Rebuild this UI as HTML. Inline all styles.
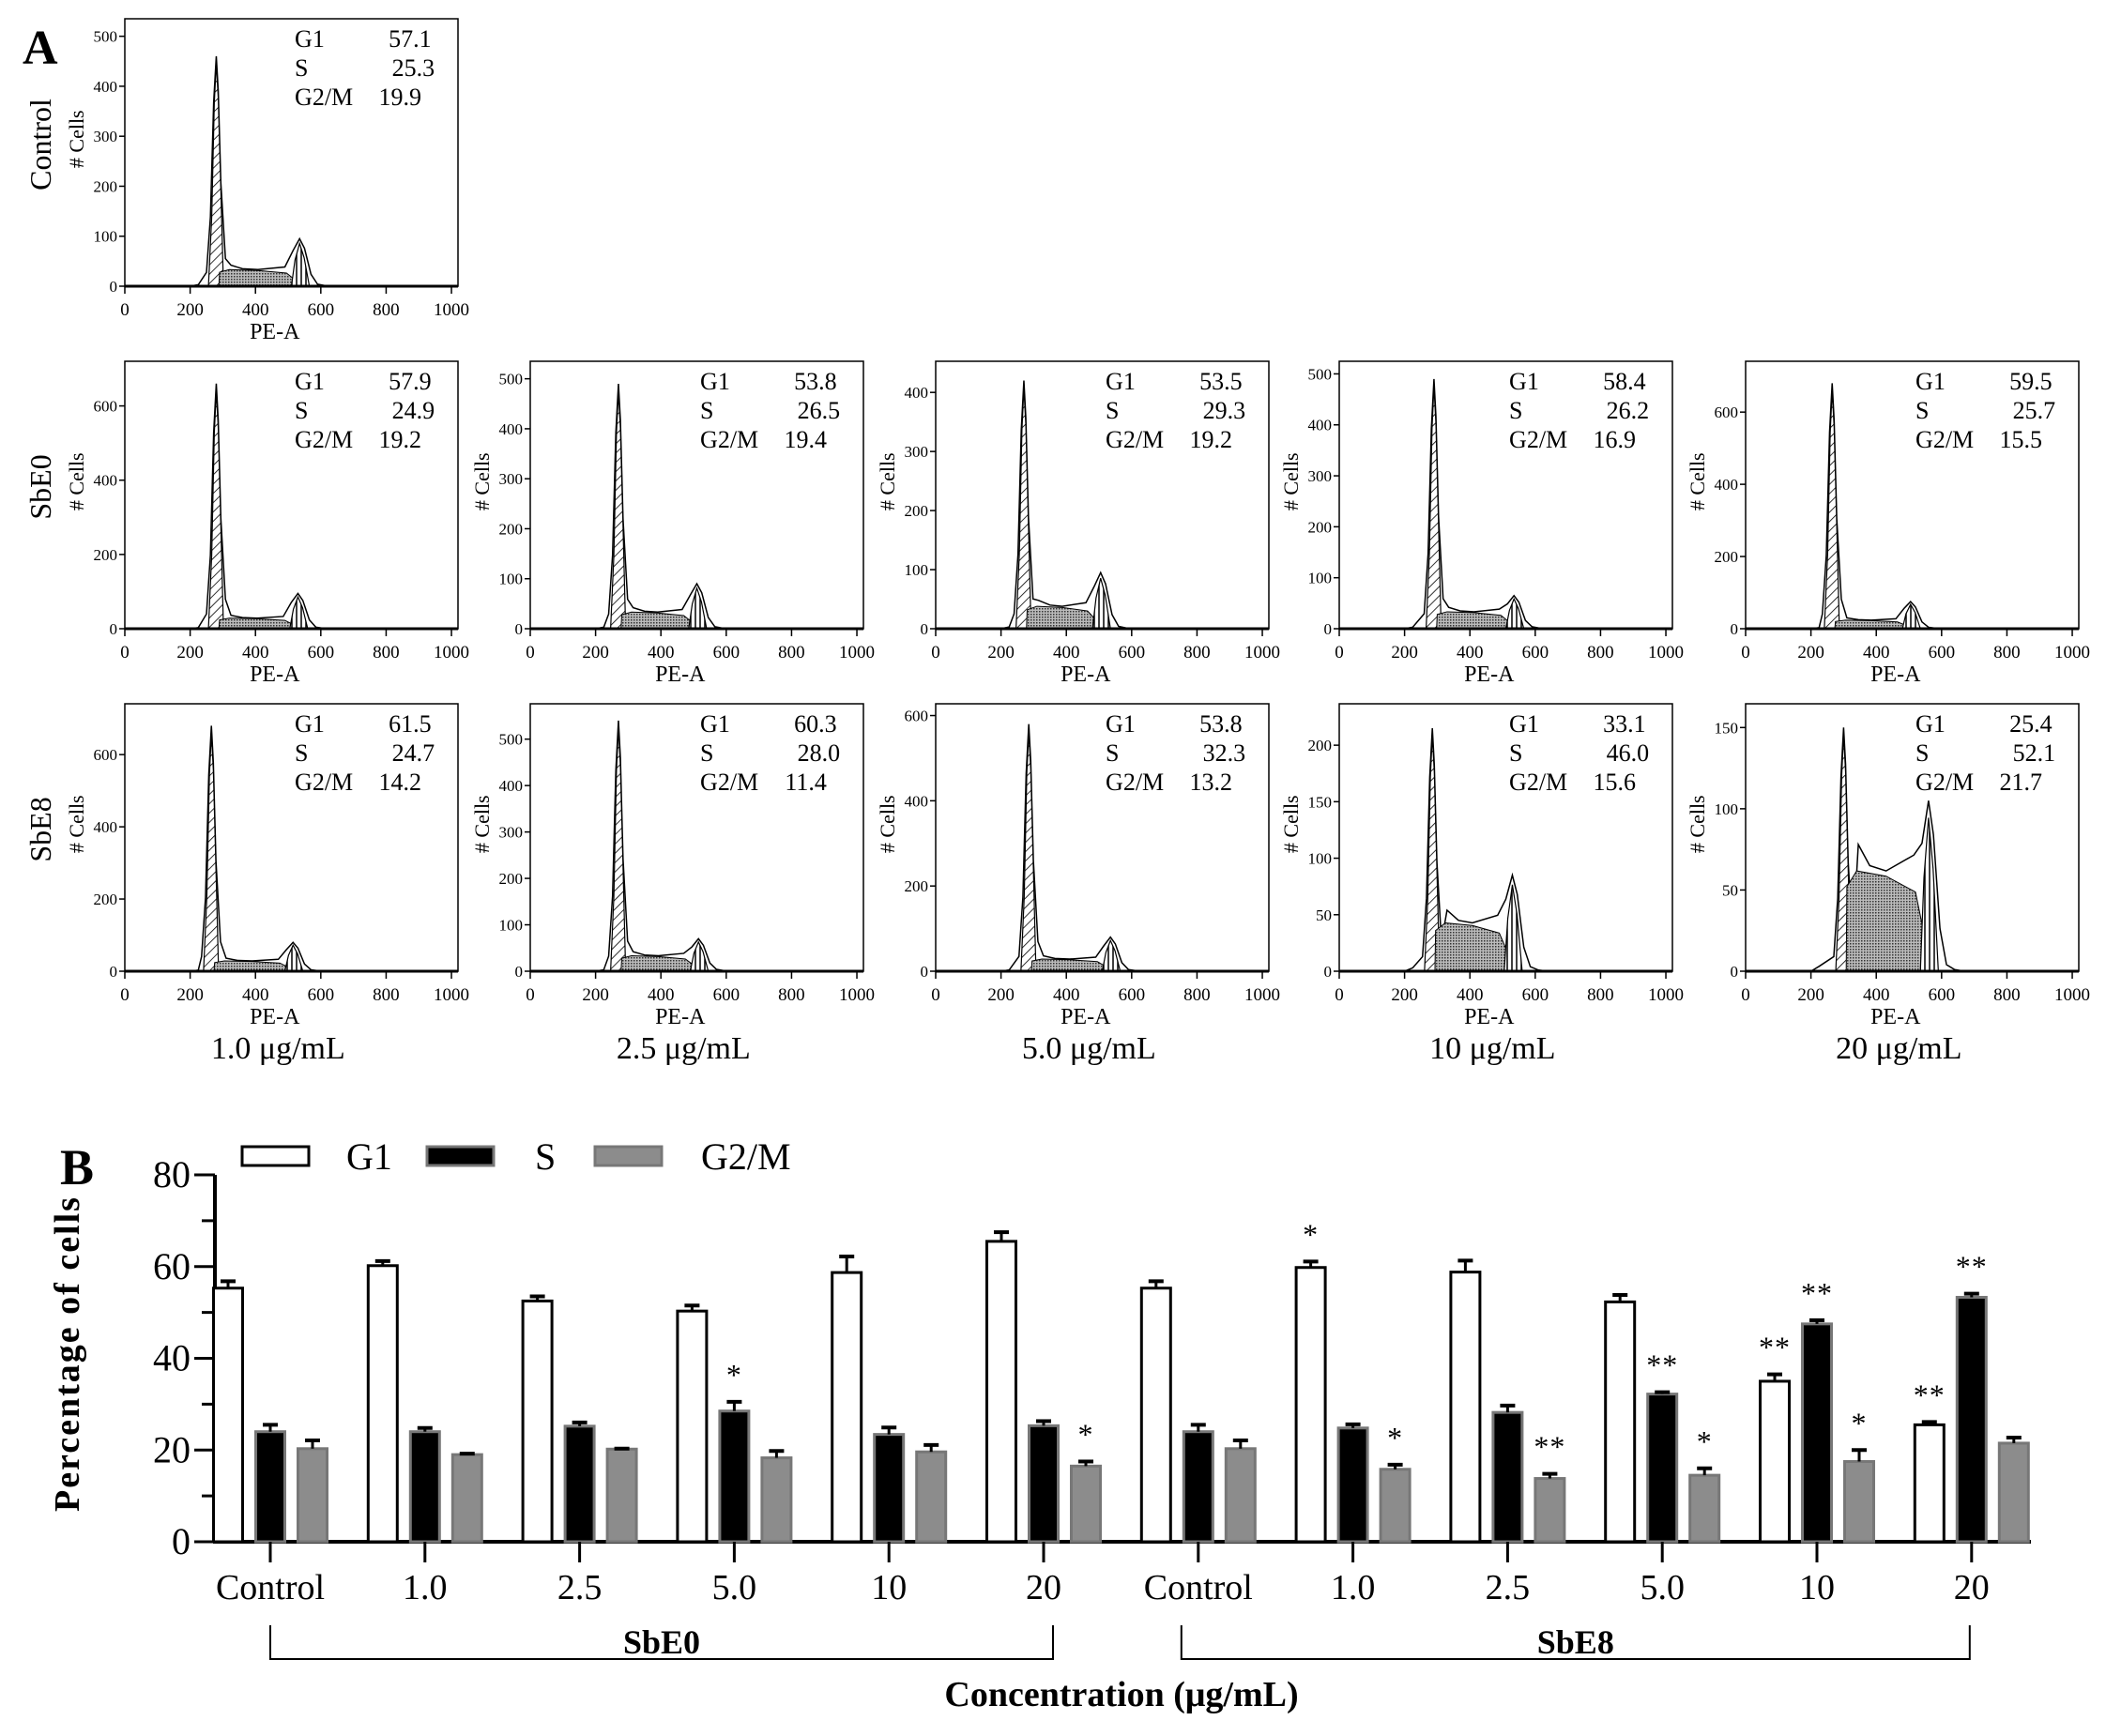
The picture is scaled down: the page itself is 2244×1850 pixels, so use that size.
<!DOCTYPE html>
<html><head><meta charset="utf-8"><style>
html,body{margin:0;padding:0;background:#fff;}
svg, svg text{font-family:"Liberation Serif","Times New Roman",serif;}
</style></head><body>
<svg id="fig" width="2244" height="1845" viewBox="0 0 2244 1845" xmlns="http://www.w3.org/2000/svg" font-family="Liberation Serif, serif">
<defs>
<pattern id="diag" width="7" height="7" patternUnits="userSpaceOnUse" patternTransform="rotate(45)"><rect width="7" height="7" fill="#fff"/><line x1="0" y1="0" x2="0" y2="7" stroke="#000" stroke-width="1.6"/></pattern>
<pattern id="vert" width="5" height="5" patternUnits="userSpaceOnUse"><rect width="5" height="5" fill="#fff"/><line x1="1" y1="0" x2="1" y2="5" stroke="#000" stroke-width="1.5"/></pattern>
<pattern id="dots" width="3" height="3" patternUnits="userSpaceOnUse"><rect width="3" height="3" fill="#bbb"/><rect width="1.5" height="1.5" fill="#333"/></pattern>
</defs>
<text x="24" y="68" font-size="52" font-weight="bold" font-family="Liberation Serif, serif">A</text>
<text x="64" y="1262" font-size="54" font-weight="bold" font-family="Liberation Serif, serif">B</text>
<g id="hist"></g>
<g id="bars"></g>
</svg>
<script>
// ---------- Panel A data ----------
const histNames = ["control","sbe0-1","sbe0-2.5","sbe0-5","sbe0-10","sbe0-20","sbe8-1","sbe8-2.5","sbe8-5","sbe8-10","sbe8-20"];
const histCol = [0,0,1,2,3,4,0,1,2,3,4];
const histRow = [0,1,1,1,1,1,2,2,2,2,2];
const histYMax = [520,700,520,440,510,720,720,560,610,230,160];
const histYStep = [100,200,100,100,100,200,200,100,200,50,50];
const histYTop = [500,600,500,400,500,600,600,500,600,200,150];
const g1Peak = [460,660,490,420,490,680,680,540,580,215,150];
const g1Pos = [280,280,270,270,290,265,265,270,285,285,300];
const g2Peak = [95,95,90,95,65,75,80,70,80,85,105];
const g2Pos = [535,530,510,505,535,505,515,515,535,530,560];
const sLevel = [35,30,35,40,35,25,30,35,30,45,65];
const statG1 = ["57.1","57.9","53.8","53.5","58.4","59.5","61.5","60.3","53.8","33.1","25.4"];
const statS = ["25.3","24.9","26.5","29.3","26.2","25.7","24.7","28.0","32.3","46.0","52.1"];
const statG2 = ["19.9","19.2","19.4","19.2","16.9","15.5","14.2","11.4","13.2","15.6","21.7"];
const xTicks = [0,200,400,600,800,1000];
const rowLabels = ["Control","SbE0","SbE8"];
const concLabels = ["1.0 μg/mL","2.5 μg/mL","5.0 μg/mL","10 μg/mL","20 μg/mL"];

const colLeft = [133,565,997,1427,1860];
const rowTop = [20,385,750];
const boxW = 355, boxH = 285;
const NS = "http://www.w3.org/2000/svg";
const FF = "Liberation Serif, serif";
function mk(tag, attrs, parent){const e=document.createElementNS(NS,tag);for(const k in attrs)e.setAttribute(k,attrs[k]);if(tag==='text')e.setAttribute('font-family',FF);parent.appendChild(e);return e;}
const hist = document.getElementById('hist');

for(let i=0;i<histNames.length;i++){
  const L=colLeft[histCol[i]], T=rowTop[histRow[i]], B=T+boxH;
  const g=mk('g',{},hist);
  
  
  const sx=v=>L+v/1020*boxW;
  const sy=v=>B-v/histYMax[i]*(boxH-8);
  const p=g1Pos[i], q=g2Pos[i], h1=g1Peak[i], h2=g2Peak[i], s=sLevel[i];
  const outline=[[200,0],[225,3],[p-30,h1*0.06],[p-18,h1*0.3],[p-8,h1*0.8],[p,h1],[p+6,h1*0.85],[p+14,h1*0.45],[p+28,h1*0.12],[p+45,s*1.2],[p+80,s],[(p+q)/2,s*0.95],[q-45,s*1.1],[q-20,h2*0.75],[q,h2],[q+15,h2*0.8],[q+35,h2*0.25],[q+55,4],[q+80,1],[q+110,0]];
  const pts=outline.map(d=>sx(d[0])+','+sy(d[1])).join(' ');
  const ol=mk('polygon',{points:pts+' '+sx(q+110)+','+B+' '+sx(200)+','+B,fill:'#fff',stroke:'#000','stroke-width':1.5},g);
  
  
  const g1=[[p-24,0],[p-14,h1*0.3],[p-6,h1*0.8],[p,h1*0.97],[p+6,h1*0.82],[p+14,h1*0.42],[p+22,0]];
  const g1e=mk('polygon',{points:g1.map(d=>sx(d[0])+','+sy(d[1])).join(' '),fill:'url(#diag)',stroke:'#000','stroke-width':1.2},g);
  
  
  const sp=[[p+8,0],[p+10,s*0.8],[p+40,s*0.95],[(p+q)/2,s*0.9],[q-40,s*0.75],[q-10,s*0.3],[q+8,0]];
  const se=mk('polygon',{points:sp.map(d=>sx(d[0])+','+sy(d[1])).join(' '),fill:'url(#dots)',stroke:'#000','stroke-width':1},g);
  
  
  const g2=[[q-25,0],[q-14,h2*0.55],[q,h2*0.9],[q+14,h2*0.6],[q+30,0]];
  const g2e=mk('polygon',{points:g2.map(d=>sx(d[0])+','+sy(d[1])).join(' '),fill:'url(#vert)',stroke:'#000','stroke-width':1.2},g);
  
  
  const box=mk('rect',{x:L,y:T,width:boxW,height:boxH,fill:'none',stroke:'#000','stroke-width':1.5},g);
  
  
  mk('line',{x1:L,y1:B,x2:L+boxW,y2:B,stroke:'#000','stroke-width':3},g);
  xTicks.forEach(t=>{
    mk('line',{x1:sx(t),y1:B,x2:sx(t),y2:B+8,stroke:'#000','stroke-width':1.5},g);
    const tx=mk('text',{x:sx(t),y:B+31,'font-size':19,'text-anchor':'middle'},g);tx.textContent=t;
    
    
  });
  for(let t=0;t<=histYTop[i];t+=histYStep[i]){
    mk('line',{x1:L-6,y1:sy(t),x2:L,y2:sy(t),stroke:'#000','stroke-width':1.5},g);
    const ty=mk('text',{x:L-8,y:sy(t)+6,'font-size':17,'text-anchor':'end'},g);ty.textContent=t;
    
    
  }
  const xt=mk('text',{x:L+boxW*0.45,y:B+56,'font-size':24,'text-anchor':'middle'},g);xt.textContent='PE-A';
  
  
  const yt=mk('text',{x:0,y:0,'font-size':22,'text-anchor':'middle',transform:`translate(${L-44},${T+boxH*0.45}) rotate(-90)`},g);yt.textContent='# Cells';
  
  
  const lab=['G1','S','G2/M'], val=[statG1[i],statS[i],statG2[i]], vx=[0.92,0.93,0.89];
  for(let k=0;k<3;k++){
    const a=mk('text',{x:L+boxW*0.51,y:T+30+k*31,'font-size':26},g);a.textContent=lab[k];
    
    
    const b=mk('text',{x:L+boxW*vx[k],y:T+30+k*31,'font-size':26,'text-anchor':'end'},g);b.textContent=val[k];
    
    
  }
}
rowLabels.forEach((r,k)=>{
  const t=mk('text',{x:0,y:0,'font-size':32,'text-anchor':'middle',transform:`translate(54,${rowTop[k]+boxH*0.47}) rotate(-90)`},hist);t.textContent=r;
  
  
});
concLabels.forEach((c,k)=>{
  const t=mk('text',{x:colLeft[k]+boxW*0.46,y:1128,'font-size':34,'text-anchor':'middle'},hist);t.textContent=c;
  
  
});

// ---------- Panel B data ----------
const categories = ["Control","1.0","2.5","5.0","10","20","Control","1.0","2.5","5.0","10","20"];
const g1Vals = [55.3,60.2,52.5,50.3,58.7,65.5,55.3,59.8,58.8,52.3,35.0,25.5];
const g1Err = [1.5,1.0,1.0,1.2,3.5,2.0,1.5,1.3,2.5,1.5,1.5,0.6];
const sVals = [24.0,24.0,25.2,28.5,23.4,25.3,24.0,24.8,28.2,32.2,47.5,53.3];
const sErr = [1.5,0.8,0.8,2.0,1.5,1.0,1.5,0.8,1.5,0.4,0.8,0.8];
const g2Vals = [20.3,19.0,20.2,18.3,19.6,16.5,20.3,15.8,13.8,14.5,17.5,21.5];
const g2Err = [1.8,0.2,0.1,1.5,1.5,1.0,1.8,1.0,1.0,1.5,2.5,1.2];
const g1Stars = ["","","","","","","","*","","","**","**"];
const sStars = ["","","","*","","","","","","**","**","**"];
const g2Stars = ["","","","","","*","","*","**","*","*",""];
const yTicks = [0,20,40,60,80];

const bars=document.getElementById('bars');
const X0=229, Y0=1643, Y80=1252, XEND=2164;
const y=v=>Y0-(v/80)*(Y0-Y80);
const cx=i=>288+i*164.8;
const BW=31, PITCH=45;
mk('line',{x1:X0,y1:Y0,x2:XEND,y2:Y0,stroke:'#000','stroke-width':4},bars);
mk('line',{x1:X0,y1:Y0+2,x2:X0,y2:y(80),stroke:'#000','stroke-width':4},bars);
for(let t=0;t<=80;t+=10){
  mk('line',{x1:X0-(t%20?14:22),y1:y(t),x2:X0,y2:y(t),stroke:'#000','stroke-width':3},bars);
}
yTicks.forEach(t=>{
  const e=mk('text',{x:X0-26,y:y(t)+13,'font-size':40,'text-anchor':'end'},bars);e.textContent=t;
  
  
});
const yt=mk('text',{x:0,y:0,'font-size':38,'font-weight':'bold','text-anchor':'middle','letter-spacing':2,transform:`translate(84,${(Y0+Y80)/2-5}) rotate(-90)`},bars);yt.textContent='Percentage of cells';


const series=[[g1Vals,g1Err,g1Stars,'#fff','#000',-1,'g1'],[sVals,sErr,sStars,'#000','#777',0,'s'],[g2Vals,g2Err,g2Stars,'#8c8c8c','#777',1,'g2m']];
categories.forEach((c,i)=>{
  series.forEach(sr=>{
    const v=sr[0][i], e=sr[1][i], bx=cx(i)+sr[5]*PITCH-BW/2;
    const r=mk('rect',{x:bx,y:y(v),width:BW,height:Y0-y(v),fill:sr[3],stroke:sr[4],'stroke-width':3},bars);
    
    
    const mx=bx+BW/2;
    mk('line',{x1:mx,y1:y(v),x2:mx,y2:y(v+e),stroke:'#000','stroke-width':3},bars);
    mk('line',{x1:mx-8,y1:y(v+e),x2:mx+8,y2:y(v+e),stroke:'#000','stroke-width':4},bars);
    if(sr[2][i]){
      const st=mk('text',{x:mx,y:y(v+e)-18,'font-size':32,'text-anchor':'middle','letter-spacing':1},bars);st.textContent=sr[2][i];
      
      
    }
  });
  mk('line',{x1:cx(i),y1:Y0,x2:cx(i),y2:Y0+22,stroke:'#000','stroke-width':3},bars);
  const t=mk('text',{x:cx(i),y:1704,'font-size':38,'text-anchor':'middle'},bars);t.textContent=c;
  
  
});
[[0,5,'SbE0',0,10],[6,11,'SbE8',-18,-2]].forEach(b=>{
  const a=cx(b[0])+b[3], z=cx(b[1])+b[4];
  mk('polyline',{points:`${a},1732 ${a},1768 ${z},1768 ${z},1732`,fill:'none',stroke:'#000','stroke-width':2},bars);
  const t=mk('text',{x:(a+z)/2,y:1762,'font-size':36,'font-weight':'bold','text-anchor':'middle'},bars);t.textContent=b[2];
  
  
});
const ct=mk('text',{x:1195,y:1818,'font-size':38,'font-weight':'bold','text-anchor':'middle'},bars);ct.textContent='Concentration (μg/mL)';


const legend=[['G1','#fff','#000',258,369],['S','#000','#777',455,570],['G2/M','#8c8c8c','#777',634,747]];
legend.forEach(l=>{
  const r=mk('rect',{x:l[3],y:1222,width:71,height:20,fill:l[1],stroke:l[2],'stroke-width':3},bars);
  
  
  const t=mk('text',{x:l[4],y:1246,'font-size':40},bars);t.textContent=l[0];
  
  
});
</script>
</body></html>
